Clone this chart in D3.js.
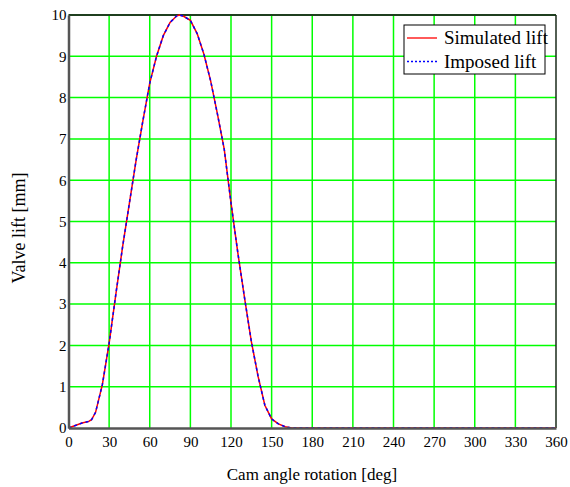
<!DOCTYPE html>
<html>
<head>
<meta charset="utf-8">
<script src="https://cdn.jsdelivr.net/npm/d3@7"></script>
<style>
  body { margin: 0; background: #fff; }
</style>
</head>
<body>
<div id="chart"></div>
<script>
// cam angle (deg) and valve lift (mm)
var camAngle = [0, 5, 10, 15, 17, 20, 25, 30, 35, 40, 45, 50, 55, 60, 65, 70, 75, 80, 82, 85,
  90, 95, 100, 105, 110, 115, 120, 125, 130, 135, 140, 145, 150, 155, 160, 165, 200, 250, 300, 360];
var simulatedLift = [0, 0.06, 0.12, 0.16, 0.2, 0.38, 1.05, 2.05, 3.25, 4.4, 5.45, 6.5, 7.45, 8.35, 9.0, 9.5, 9.82, 9.98, 10.0, 9.97,
  9.87, 9.55, 9.05, 8.4, 7.6, 6.75, 5.45, 4.25, 3.15, 2.1, 1.25, 0.55, 0.22, 0.1, 0.03, 0, 0, 0, 0, 0];
var imposedLift = [0, 0.06, 0.12, 0.16, 0.2, 0.38, 1.05, 2.05, 3.25, 4.4, 5.45, 6.5, 7.45, 8.35, 9.0, 9.5, 9.82, 9.98, 10.0, 9.97,
  9.87, 9.55, 9.05, 8.4, 7.6, 6.75, 5.45, 4.25, 3.15, 2.1, 1.25, 0.55, 0.22, 0.1, 0.03, 0, 0, 0, 0, 0];
var xTicks = [0, 30, 60, 90, 120, 150, 180, 210, 240, 270, 300, 330, 360];
var yTicks = [0, 1, 2, 3, 4, 5, 6, 7, 8, 9, 10];
var seriesNames = ["Simulated lift", "Imposed lift"];

(function () {
  var W = 570, H = 487;
  var pLeft = 68.5, pRight = 556, pTop = 15, pBottom = 428;
  var serif = "'Liberation Serif'";

  var svg = d3.select("#chart").append("svg").attr("width", W).attr("height", H);

  var x = d3.scaleLinear().domain([0, 360]).range([pLeft, pRight]);
  var y = d3.scaleLinear().domain([0, 10]).range([pBottom, pTop]);

  // grid
  svg.append("g").selectAll("line").data(xTicks.slice(1, -1)).join("line")
    .attr("x1", d => x(d)).attr("x2", d => x(d))
    .attr("y1", pTop).attr("y2", pBottom)
    .attr("stroke", "#00ff00").attr("stroke-width", 1.5);
  svg.append("g").selectAll("line").data(yTicks.slice(1, -1)).join("line")
    .attr("y1", d => y(d)).attr("y2", d => y(d))
    .attr("x1", pLeft).attr("x2", pRight)
    .attr("stroke", "#00ff00").attr("stroke-width", 1.5);

  // frame
  svg.append("line").attr("x1", pLeft).attr("x2", pRight).attr("y1", pTop).attr("y2", pTop)
    .attr("stroke", "#1f3f1f").attr("stroke-width", 2);
  svg.append("line").attr("x1", pRight).attr("x2", pRight).attr("y1", pTop).attr("y2", pBottom)
    .attr("stroke", "#1a2a1a").attr("stroke-width", 1.5);

  // curves
  var line = d3.line().x(d => x(d[0])).y(d => y(d[1]));
  svg.append("path").datum(d3.zip(camAngle, simulatedLift)).attr("d", line)
    .attr("fill", "none").attr("stroke", "#ff0000").attr("stroke-width", 1.5);
  svg.append("path").datum(d3.zip(camAngle, imposedLift)).attr("d", line)
    .attr("fill", "none").attr("stroke", "#0000ff").attr("stroke-width", 1.5)
    .attr("stroke-dasharray", "3,3");

  // axes
  var xAxis = d3.axisBottom(x).tickValues(xTicks).tickSize(0).tickPadding(8);
  var gx = svg.append("g").attr("transform", "translate(0," + pBottom + ")").call(xAxis);
  gx.select(".domain").attr("stroke", "#555").attr("stroke-width", 2.5);
  gx.selectAll("text").attr("fill", "#000")
    .style("font-family", serif).style("font-size", "15px");

  var yAxis = d3.axisLeft(y).tickValues(yTicks).tickSize(0).tickPadding(2);
  var gy = svg.append("g").attr("transform", "translate(" + pLeft + ",0)").call(yAxis);
  gy.select(".domain").attr("stroke", "#555").attr("stroke-width", 2.5);
  gy.selectAll("text").attr("fill", "#000")
    .style("font-family", serif).style("font-size", "15px");

  // titles
  svg.append("text").attr("x", 312).attr("y", 480).attr("text-anchor", "middle")
    .style("font-family", serif).style("font-size", "17px").text("Cam angle rotation [deg]");
  svg.append("text").attr("transform", "translate(25,228) rotate(-90)").attr("text-anchor", "middle")
    .style("font-family", serif).style("font-size", "18px").text("Valve lift [mm]");

  // legend
  var lg = svg.append("g");
  lg.append("rect").attr("x", 404).attr("y", 25).attr("width", 141).attr("height", 49)
    .attr("fill", "#fff").attr("stroke", "#000").attr("stroke-width", 1);
  var styles = [{c: "#ff0000", dash: null}, {c: "#0000ff", dash: "2,2"}];
  seriesNames.forEach(function (name, i) {
    var yy = 38 + i * 23.5;
    lg.append("line").attr("x1", 407).attr("x2", 437).attr("y1", yy).attr("y2", yy)
      .attr("stroke", styles[i].c).attr("stroke-width", 1.3).attr("stroke-dasharray", styles[i].dash);
    lg.append("text").attr("x", 444).attr("y", yy + 6)
      .style("font-family", serif).style("font-size", "19px").text(name);
  });
})();
</script>
</body>
</html>
